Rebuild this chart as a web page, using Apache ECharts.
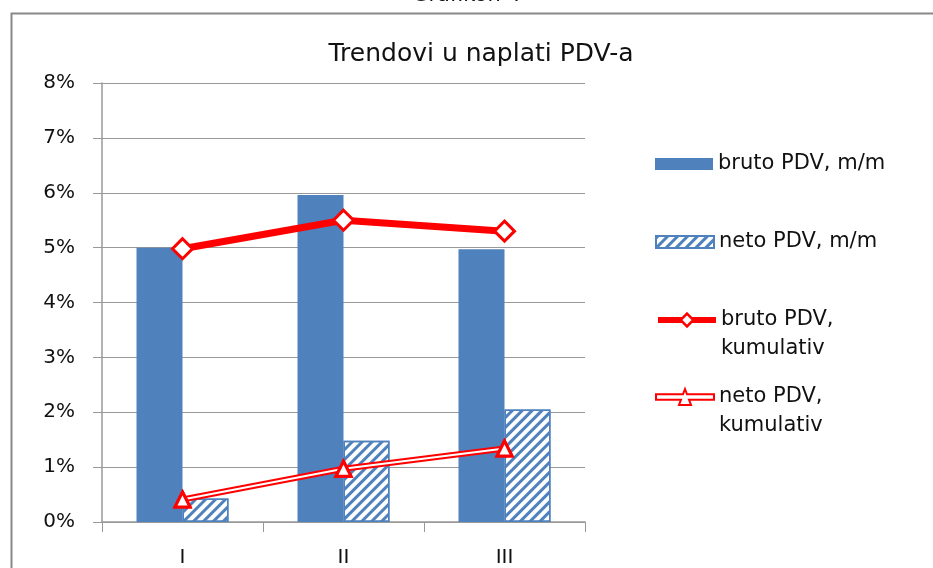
<!DOCTYPE html>
<html>
<head>
<meta charset="utf-8">
<script src="https://cdn.jsdelivr.net/npm/echarts@6/dist/echarts.min.js"></script>
<style>
  html, body { margin: 0; padding: 0; background: #fff; }
  #chart { width: 933px; height: 568px; }
</style>
</head>
<body>
<div id="chart"></div>
<script>
// podaci (u %)
const categories = ['I', 'II', 'III'];
const brutoMM = [5.0, 5.96, 4.97];
const netoMM = [0.43, 1.48, 2.05];
const brutoKum = [4.98, 5.5, 5.3];
const netoKum = [0.41, 0.97, 1.34];
const yTicks = [0, 1, 2, 3, 4, 5, 6, 7, 8];

const BLUE = '#4F81BD';
const RED = '#FF0000';
const FONT = 'DejaVu Sans';

// dvostruka linija s trokutom za legendu
const NETO_ICON = 'path://M0 6 L27 6 L29 2 L31 6 L58 6 L58 10 L33 10 L35 14 L23 14 L25 10 L0 10 Z';

const myChart = echarts.init(document.getElementById('chart'));

// jedna legenda po stavci, da bi se mogao podesiti razmak
function legendItem(item, top, multiline, h) {
    return {
        orient: 'vertical',
        left: 650,
        top: top,
        itemWidth: 58,
        itemHeight: h || 12,
        itemGap: 0,
        selectedMode: false,
        symbolKeepAspect: false,
        data: [item],
        formatter: function (n) {
            // prazan prvi red da ikona stoji uz prvi red teksta
            return multiline ? ' \n' + n.replace(', ', ',\n') : n;
        },
        textStyle: { fontFamily: FONT, fontSize: 21, color: '#111', lineHeight: 29 }
    };
}

let option = {
    animation: false,
    backgroundColor: '#fff',
    title: {
        text: 'Trendovi u naplati PDV-a',
        left: 476,
        textAlign: 'center',
        top: 37,
        textStyle: { fontFamily: FONT, fontSize: 25, fontWeight: 'normal', color: '#111' }
    },
    graphic: [
        {
            type: 'text', left: 'center', top: -15,
            style: { text: 'Grafikon 4', font: '21px "DejaVu Sans"', fill: '#111' }
        },
        {
            type: 'rect', left: 9, top: 11, silent: true,
            shape: { width: 960, height: 600 },
            style: { fill: 'none', stroke: '#888', lineWidth: 2 }
        }
    ],
    legend: [
        legendItem({ name: 'bruto PDV, m/m', icon: 'rect' }, 144.5, false),
        legendItem({ name: 'neto PDV, m/m', icon: 'rect' }, 222.5, false),
        legendItem({
            name: 'bruto PDV, kumulativ',
            lineStyle: { width: 6, color: RED },
            itemStyle: { color: '#fff', borderColor: RED, borderWidth: 2.5 }
        }, 271.5, true, 16),
        legendItem({
            name: 'neto PDV, kumulativ',
            icon: NETO_ICON,
            itemStyle: { color: '#fff', borderColor: RED, borderWidth: 2 }
        }, 348.5, true, 16)
    ],
    grid: { left: 102, right: 348, top: 83, bottom: 46 },
    xAxis: {
        type: 'category',
        data: categories,
        axisLine: { lineStyle: { color: '#999', width: 1.5 } },
        axisTick: { show: true, length: 10, lineStyle: { color: '#999' } },
        axisLabel: { fontFamily: FONT, fontSize: 20, color: '#111', margin: 26 }
    },
    yAxis: {
        type: 'value',
        min: yTicks[0],
        max: yTicks[yTicks.length - 1],
        interval: 1,
        axisLine: { show: true, lineStyle: { color: '#999', width: 1.5 } },
        axisTick: { show: true, length: 9, lineStyle: { color: '#999' } },
        splitLine: { lineStyle: { color: '#999', width: 1.2 } },
        axisLabel: { fontFamily: FONT, fontSize: 20, color: '#111', margin: 27, formatter: '{value}%' }
    },
    series: [
        {
            name: 'bruto PDV, m/m',
            type: 'bar',
            data: brutoMM,
            barWidth: 46,
            barGap: '0%',
            itemStyle: { color: BLUE }
        },
        {
            name: 'neto PDV, m/m',
            type: 'bar',
            data: netoMM,
            barWidth: 46,
            itemStyle: {
                color: '#fff',
                borderColor: BLUE,
                borderWidth: 1.5,
                decal: {
                    symbol: 'rect',
                    color: BLUE,
                    dashArrayX: [1, 0],
                    dashArrayY: [2.2, 3.3],
                    rotation: -Math.PI / 4
                }
            }
        },
        {
            name: 'bruto PDV, kumulativ',
            type: 'line',
            data: brutoKum,
            symbol: 'diamond',
            symbolSize: 20,
            itemStyle: { color: '#fff', borderColor: RED, borderWidth: 3 },
            lineStyle: { color: RED, width: 7 },
            z: 5
        },
        {
            name: 'neto PDV, kumulativ',
            type: 'line',
            data: netoKum,
            symbol: 'triangle',
            symbolSize: 15,
            itemStyle: { color: '#fff', borderColor: RED, borderWidth: 3 },
            lineStyle: { color: RED, width: 6 },
            z: 5
        },
        {
            // bijela sredina dvostruke linije
            name: 'neto-inner',
            type: 'line',
            data: netoKum,
            symbol: 'none',
            lineStyle: { color: '#fff', width: 2 },
            silent: true,
            z: 5
        },
        {
            // markeri ponovo preko bijele linije
            name: 'neto-markers',
            type: 'line',
            data: netoKum,
            symbol: 'triangle',
            symbolSize: 15,
            itemStyle: { color: '#fff', borderColor: RED, borderWidth: 3 },
            lineStyle: { width: 0, opacity: 0 },
            silent: true,
            z: 5
        }
    ]
};

myChart.setOption(option);
</script>
</body>
</html>
